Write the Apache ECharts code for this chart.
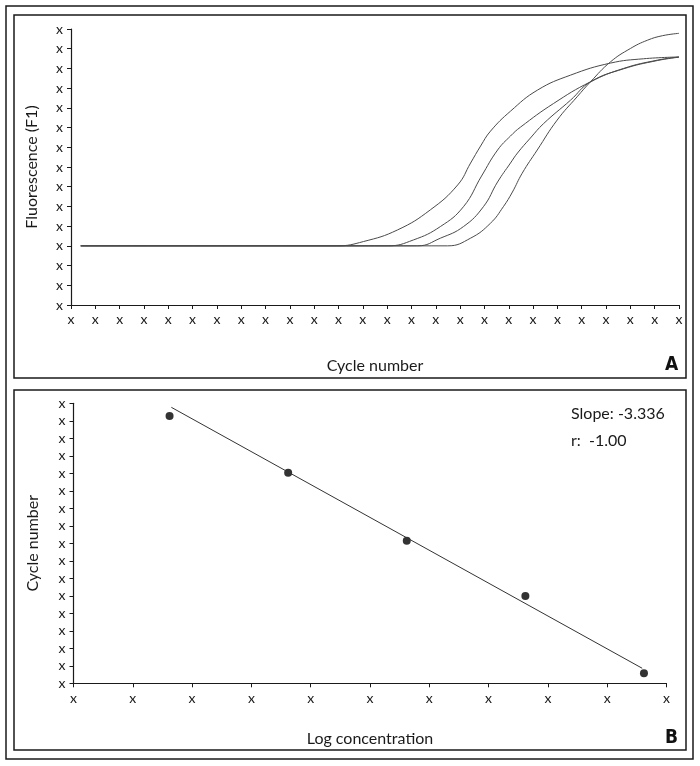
<!DOCTYPE html>
<html>
<head>
<meta charset="utf-8">
<script src="https://cdn.jsdelivr.net/npm/echarts@6/dist/echarts.min.js"></script>
<style>
html,body{margin:0;padding:0;background:#fff;}
#chart{width:700px;height:766px;}
</style>
</head>
<body>
<div id="chart"></div>
<script>
// ---- Panel A: amplification curves (cycle index, fluorescence) ----
const cycleTicksA = ['x','x','x','x','x','x','x','x','x','x','x','x','x','x','x','x','x','x','x','x','x','x','x','x','x','x'];
const fluorTicksA = ['x','x','x','x','x','x','x','x','x','x','x','x','x','x','x'];
const curve1 = [[0.4,3],[10.92,3],[12.03,3.22],[13.43,3.81],[14.78,4.83],[15.90,6.09],[16.43,7.20],[16.84,8.06],[17.25,8.82],[18.07,9.83],[19.18,10.90],[20.54,11.66],[22.18,12.27],[23.54,12.49],[25,12.58]];
const curve2 = [[0.4,3],[13.02,3],[14.08,3.30],[15.19,3.98],[16.14,4.99],[16.88,6.54],[17.54,7.86],[18.07,8.57],[18.48,9.02],[19.84,10.22],[21.36,11.32],[22.72,12.0],[24.11,12.42],[25,12.58]];
const curve3 = [[0.4,3],[14.25,3],[15.19,3.39],[16.14,3.98],[16.96,4.99],[17.54,6.24],[18.07,7.20],[18.36,7.71],[18.89,8.47],[19.43,9.20],[20.54,10.39],[21.36,11.32],[22.72,11.98],[24.11,12.40],[25,12.57]];
const curve4 = [[0.4,3],[15.48,3],[16.43,3.39],[17.25,4.15],[17.78,4.99],[18.15,5.73],[18.55,6.68],[19.17,7.86],[19.99,9.38],[20.81,10.56],[21.36,11.32],[22.18,12.33],[23.0,13.01],[23.7,13.43],[24.32,13.66],[25,13.78]];

// ---- Panel B: standard curve ----
const logTicksB = ['x','x','x','x','x','x','x','x','x','x','x'];
const cycleTicksB = ['x','x','x','x','x','x','x','x','x','x','x','x','x','x','x','x','x'];
const logConc = [1.62, 3.62, 5.62, 7.62, 9.62];
const ctValues = [15.27, 12.03, 8.15, 4.99, 0.57];
const fitX = [1.65, 9.59];
const fitY = [15.77, 0.86];
const slopeText = 'Slope: -3.336';
const rText = 'r:  -1.00';

const FONT = 'Lato';
const INK = '#1a1a1a';

function axisBase(ticks, extra) {
  return Object.assign({
    type: 'value',
    axisLine: {show: true, lineStyle: {color: INK, width: 1.2}},
    axisTick: {show: true, length: 4, lineStyle: {color: INK, width: 1}},
    splitLine: {show: false},
    nameTextStyle: {color: INK, fontSize: 16, fontFamily: FONT},
    nameLocation: 'middle'
  }, extra);
}
function lbl(ticks, margin) {
  return {color: INK, fontSize: 14, fontFamily: FONT, margin: margin, formatter: v => ticks[Math.round(v)] || ''};
}

const chart = echarts.init(document.getElementById('chart'), null, {renderer: 'canvas'});
const curveStyle = {color: '#4a4a4a', width: 1};
const mkCurve = d => ({type: 'line', xAxisIndex: 0, yAxisIndex: 0, data: d, smooth: 0.45, showSymbol: false, symbol: 'none', lineStyle: curveStyle, silent: true, animation: false});

chart.setOption({
  animation: false,
  backgroundColor: '#fff',
  grid: [
    {left: 71, top: 29, width: 608, height: 276, outerBoundsMode: 'none', containLabel: false},
    {left: 73.5, top: 403.3, width: 593, height: 280, outerBoundsMode: 'none', containLabel: false}
  ],
  xAxis: [
    axisBase(cycleTicksA, {gridIndex: 0, min: 0, max: cycleTicksA.length - 1, interval: 1, name: 'Cycle number', nameGap: 53, axisLabel: lbl(cycleTicksA, 7)}),
    axisBase(logTicksB, {gridIndex: 1, min: 0, max: logTicksB.length - 1, interval: 1, name: 'Log concentration', nameGap: 48, axisLabel: lbl(logTicksB, 8)})
  ],
  yAxis: [
    axisBase(fluorTicksA, {gridIndex: 0, min: 0, max: fluorTicksA.length - 1, interval: 1, name: 'Fluorescence (F1)', nameGap: 31, axisLabel: lbl(fluorTicksA, 8)}),
    axisBase(cycleTicksB, {gridIndex: 1, min: 0, max: cycleTicksB.length - 1, interval: 1, name: 'Cycle number', nameGap: 33, axisLabel: lbl(cycleTicksB, 8)})
  ],
  series: [
    mkCurve(curve1), mkCurve(curve2), mkCurve(curve3), mkCurve(curve4),
    {type: 'line', xAxisIndex: 1, yAxisIndex: 1, data: fitX.map((x, i) => [x, fitY[i]]), showSymbol: false, symbol: 'none', lineStyle: {color: '#333', width: 1}, silent: true},
    {type: 'scatter', xAxisIndex: 1, yAxisIndex: 1, data: logConc.map((x, i) => [x, ctValues[i]]), symbol: 'circle', symbolSize: 8, itemStyle: {color: '#000'}, silent: true}
  ],
  graphic: [
    {type: 'rect', shape: {x: 6, y: 6, width: 687, height: 753}, style: {fill: 'none', stroke: INK, lineWidth: 1.5}, silent: true, z: 10},
    {type: 'rect', shape: {x: 14, y: 15, width: 672, height: 363}, style: {fill: 'none', stroke: INK, lineWidth: 1.5}, silent: true, z: 10},
    {type: 'rect', shape: {x: 14, y: 390, width: 672, height: 360}, style: {fill: 'none', stroke: INK, lineWidth: 1.5}, silent: true, z: 10},
    {type: 'text', left: 665, top: 356, style: {text: 'A', fill: '#111', font: 'bold 19px "Liberation Sans Narrow", "DejaVu Sans Condensed", sans-serif'}, z: 10},
    {type: 'text', left: 665, top: 729, style: {text: 'B', fill: '#111', font: 'bold 19px "Liberation Sans Narrow", "DejaVu Sans Condensed", sans-serif'}, z: 10},
    {type: 'text', left: 571, top: 406, style: {text: slopeText, fill: INK, font: '16px Lato'}, z: 10},
    {type: 'text', left: 571, top: 433, style: {text: rText, fill: INK, font: '16px Lato'}, z: 10}
  ]
});
</script>
</body>
</html>
